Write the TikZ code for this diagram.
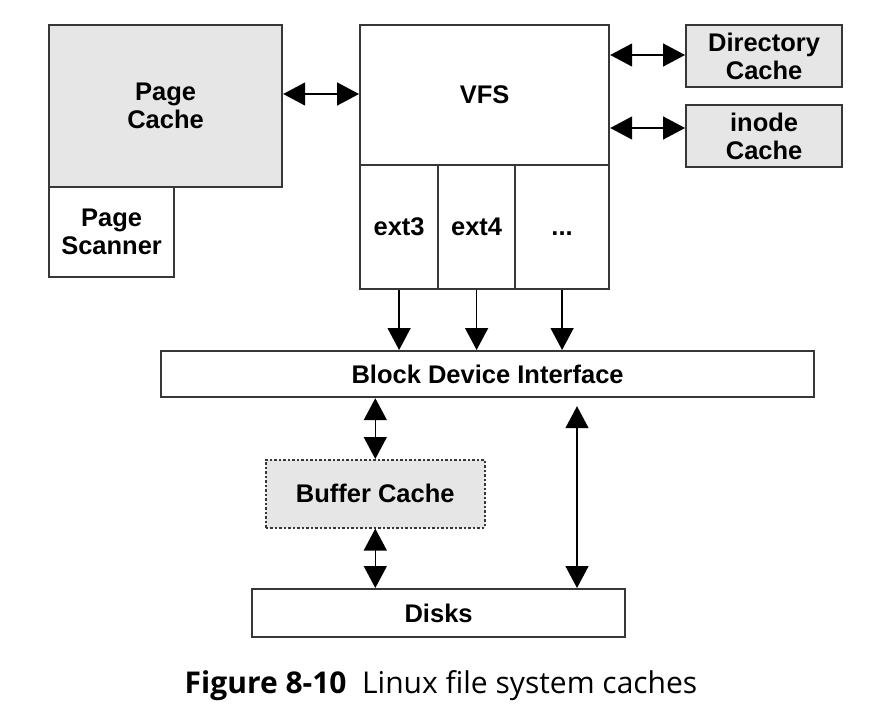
\documentclass[tikz,border=0pt]{standalone}
\usepackage{fontspec}
\setmainfont{Liberation Sans}
\newfontfamily\capfont{Open Sans}
\usetikzlibrary{arrows.meta}

\definecolor{boxline}{RGB}{55,55,55}
\definecolor{cachefill}{RGB}{230,230,230}

\begin{document}
\begin{tikzpicture}[x=1pt, y=-1pt,
    box/.style={draw=boxline, line width=2.2pt, rectangle, anchor=north west, inner sep=0pt,
      align=center, font=\fontsize{25.5}{28}\selectfont\bfseries},
    cache/.style={box, fill=cachefill},
    link/.style={line width=1.6pt, draw=black, {Triangle[length=22pt,width=23pt]}-{Triangle[length=22pt,width=23pt]}},
    down/.style={line width=1.6pt, draw=black, -{Triangle[length=22pt,width=23pt]}}]

  \useasboundingbox (0,0) rectangle (883,725);

  % Page cache and its scanner
  \node[cache, minimum width=233pt, minimum height=162pt] (pc) at (48,24) {Page\\Cache};
  \node[box, minimum width=125pt, minimum height=90pt] (ps) at (48,186) {Page\\Scanner};

  % VFS with the file systems below it
  \node[box, minimum width=249pt, minimum height=140pt] (vfs) at (359,24) {VFS};
  \node[box, minimum width=78pt, minimum height=124pt] (ext3) at (359,164) {ext3};
  \node[box, minimum width=77pt, minimum height=124pt] (ext4) at (437,164) {ext4};
  \node[box, minimum width=94pt, minimum height=124pt] (more) at (514,164) {\vphantom{ext}...};

  % Directory and inode caches
  \node[cache, minimum width=156pt, minimum height=62pt] (dc) at (685,24) {Directory\\Cache};
  \node[cache, minimum width=156pt, minimum height=62pt] (ic) at (685,104) {inode\\Cache};

  % Block layer and disks
  \node[box, minimum width=653pt, minimum height=46pt] (bdi) at (160,350) {Block Device Interface};
  \node[cache, dash pattern=on 2.5pt off 2pt, line width=1.6pt, minimum width=219pt, minimum height=68pt] (buf) at (265,459) {Buffer Cache};
  \node[box, minimum width=373pt, minimum height=48pt] (disk) at (251,588) {Disks};

  % Caption
  \node[font=\capfont\fontsize{30}{34}\selectfont] (cap) at (441,686)
    {\textbf{Figure 8-10}\ \ Linux file system caches};

  % Rows of the side arrows
  \coordinate (rowpc) at (0,94);
  \coordinate (rowdc) at (0,55);
  \coordinate (rowic) at (0,128);
  \coordinate (colr) at (577,0);

  \draw[link] (pc.east |- rowpc) -- (vfs.west |- rowpc);
  \draw[link] (vfs.east |- rowdc) -- (dc.west |- rowdc);
  \draw[link] (vfs.east |- rowic) -- (ic.west |- rowic);

  % File systems down to the block layer
  \foreach \fs in {ext3,ext4,more}
    \draw[down] (\fs.south) -- (\fs.south |- bdi.north);

  \draw[link] (bdi.south -| buf.north) -- (buf.north);
  \draw[link] (buf.south) -- (disk.north -| buf.south);
  \draw[link] ([yshift=-8pt]bdi.south -| colr) -- (disk.north -| colr);

\end{tikzpicture}
\end{document}
